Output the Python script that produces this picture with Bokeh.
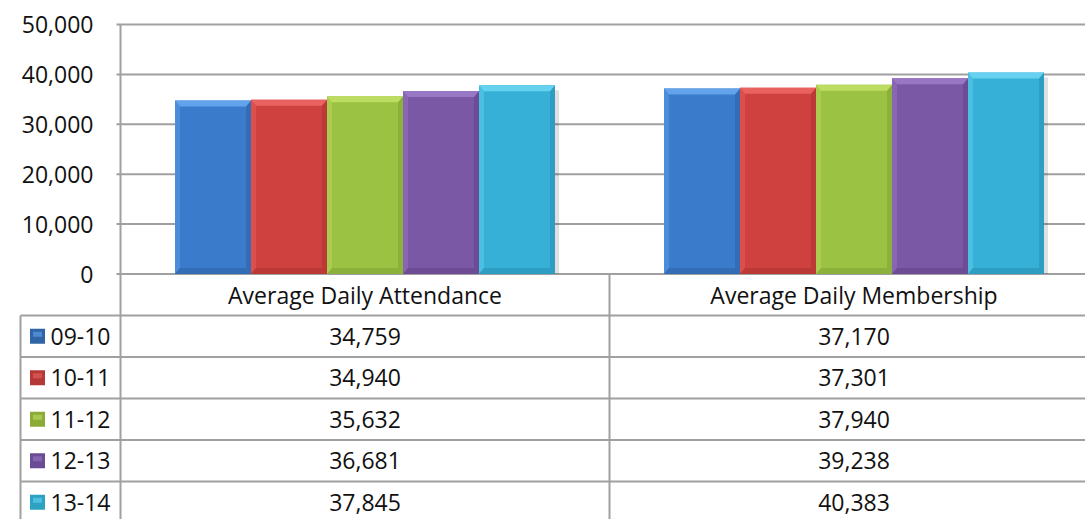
from bokeh.plotting import figure
from bokeh.models import Range1d
from bokeh.core.properties import value
from bokeh.embed import file_html
from bokeh.resources import INLINE

# ---------------- data ----------------
categories = ["Average Daily Attendance", "Average Daily Membership"]
series = ["09-10", "10-11", "11-12", "12-13", "13-14"]
attendance = [34759, 34940, 35632, 36681, 37845]
membership = [37170, 37301, 37940, 39238, 40383]
y_ticks = [0, 10000, 20000, 30000, 40000, 50000]

# ---------------- style ----------------
base_colors = ["#3B7BCB", "#CF413F", "#9CC243", "#7B58A6", "#36B0D6"]
light_colors = ["#62A3EC", "#EA6260", "#BCDC62", "#9877C4", "#66D2F0"]
dark_colors = ["#2E64A9", "#AE3331", "#82A536", "#624589", "#2891B2"]
key_colors = ["#2F64A6", "#B43836", "#8BAA38", "#6A4B96", "#2CA2C2"]
FONT = "Open Sans"
FS = "23px"
TXT = "#111111"
LINE = "#A0A0A0"

FIG_W, FIG_H = 1085, 519
PLOT_LEFT = 120.0        # px, left edge of plot area
ZERO_Y = 273.5           # px, y of value 0
TOP_Y = 24.0             # px, y of value 50,000
CAT_W = 489.0            # px per category
PX_Y = 50000.0 / (ZERO_Y - TOP_Y)   # value units per pixel
BAR_W = 76.0 / CAT_W     # bar width in category units
ROW_H = 41.5             # px per table row
TABLE_LEFT_PX = 20.0


def cx(px):
    """horizontal pixel offset -> category units"""
    return px / CAT_W


def row(k):
    """table row boundary k (0 = header top) -> value units"""
    return -k * ROW_H * PX_Y


p = figure(width=FIG_W, height=FIG_H,
           x_range=Range1d(cx(-PLOT_LEFT), cx(FIG_W - PLOT_LEFT)),
           y_range=Range1d(-(FIG_H - ZERO_Y) * PX_Y, 50000 + TOP_Y * PX_Y),
           x_axis_type=None, y_axis_type=None,
           output_backend="svg", toolbar_location=None,
           min_border_left=0, min_border_right=0, min_border_top=0, min_border_bottom=0)
p.outline_line_color = None
p.xgrid.visible = False
p.ygrid.visible = False
p.background_fill_color = "white"
p.border_fill_color = "white"

n_cat = len(categories)
n_rows = len(series)
x_right = cx(FIG_W - PLOT_LEFT) + 0.1

# ---- value gridlines (with short outside ticks) and value labels ----
p.segment(x0=[cx(-4)] * len(y_ticks), x1=[x_right] * len(y_ticks),
          y0=y_ticks, y1=y_ticks, line_color=LINE, line_width=2)
p.text(x=[cx(-27)] * len(y_ticks), y=y_ticks, text=[f"{t:,}" for t in y_ticks],
       text_font=value(FONT), text_font_size=FS, text_color=TXT,
       text_align="right", text_baseline="middle")

# ---- bars ----
values_by_cat = [attendance, membership]
dx = cx(5)
hb = 6.0 * PX_Y

for j, name in enumerate(series):
    xs_l, xs_r, tops = [], [], []
    for i, vals in enumerate(values_by_cat):
        xl = i + 0.5 + (j - 2.5) * BAR_W
        xs_l.append(xl)
        xs_r.append(xl + BAR_W)
        tops.append(vals[j])
    # soft shadow on the right
    p.quad(left=xs_r, right=[x + cx(4) for x in xs_r], top=[t - 5 * PX_Y for t in tops],
           bottom=[0] * n_cat, fill_color="#000000", fill_alpha=0.12, line_color=None)
    # body
    p.quad(left=xs_l, right=xs_r, top=tops, bottom=[0] * n_cat,
           fill_color=base_colors[j], line_color=None)
    # bevel edges
    p.patches(xs=[[l, l + dx, l + dx, l] for l in xs_l],
              ys=[[t, t - hb, hb, 0] for t in tops],
              fill_color=light_colors[j], fill_alpha=0.45, line_color=None)
    p.patches(xs=[[r, r - dx, r - dx, r] for r in xs_r],
              ys=[[t, t - hb, hb, 0] for t in tops],
              fill_color=dark_colors[j], fill_alpha=0.6, line_color=None)
    p.patches(xs=[[l, r, r - dx, l + dx] for l, r in zip(xs_l, xs_r)],
              ys=[[0, 0, hb, hb] for _ in tops],
              fill_color=dark_colors[j], fill_alpha=0.6, line_color=None)
    p.patches(xs=[[l, r, r - dx, l + dx] for l, r in zip(xs_l, xs_r)],
              ys=[[t, t, t - hb, t - hb] for t in tops],
              fill_color=light_colors[j], line_color=None)

# ---- axis line and table grid ----
bottom = -(FIG_H - ZERO_Y + 5) * PX_Y
table_left = cx(TABLE_LEFT_PX - PLOT_LEFT)
# vertical: value axis / table column 0 edge, column divider, legend column edge
p.segment(x0=[0, 1, table_left], x1=[0, 1, table_left],
          y0=[50000, 0, row(1)], y1=[bottom] * 3, line_color=LINE, line_width=2)
# horizontal row lines
p.segment(x0=[table_left] * n_rows, x1=[x_right] * n_rows,
          y0=[row(k) for k in range(1, n_rows + 1)],
          y1=[row(k) for k in range(1, n_rows + 1)],
          line_color=LINE, line_width=2)

# header
p.text(x=[i + 0.5 for i in range(n_cat)], y=[row(0.5)] * n_cat,
       text=categories, text_font=value(FONT), text_font_size=FS, text_color=TXT,
       text_align="center", text_baseline="middle")
# values
vx, vy, vt = [], [], []
for i, vals in enumerate(values_by_cat):
    for j, v in enumerate(vals):
        vx.append(i + 0.5)
        vy.append(row(j + 1.5))
        vt.append(f"{v:,}")
p.text(x=vx, y=vy, text=vt, text_font=value(FONT), text_font_size=FS, text_color=TXT,
       text_align="center", text_baseline="middle")

# legend keys and labels
row_y = [row(j + 1.5) for j in range(n_rows)]
key_x = cx(37 - PLOT_LEFT)
p.rect(x=[key_x] * n_rows, y=row_y, width=15, height=15,
       width_units="screen", height_units="screen", fill_color=key_colors,
       line_color=None)
p.rect(x=[key_x] * n_rows, y=[r + 2 * PX_Y for r in row_y], width=9, height=5,
       width_units="screen", height_units="screen", fill_color=light_colors,
       fill_alpha=0.6, line_color=None)
p.text(x=[cx(50 - PLOT_LEFT)] * n_rows, y=row_y, text=series,
       text_font=value(FONT), text_font_size=FS, text_color=TXT,
       text_align="left", text_baseline="middle")

open("out.html", "w").write(file_html(p, INLINE))
